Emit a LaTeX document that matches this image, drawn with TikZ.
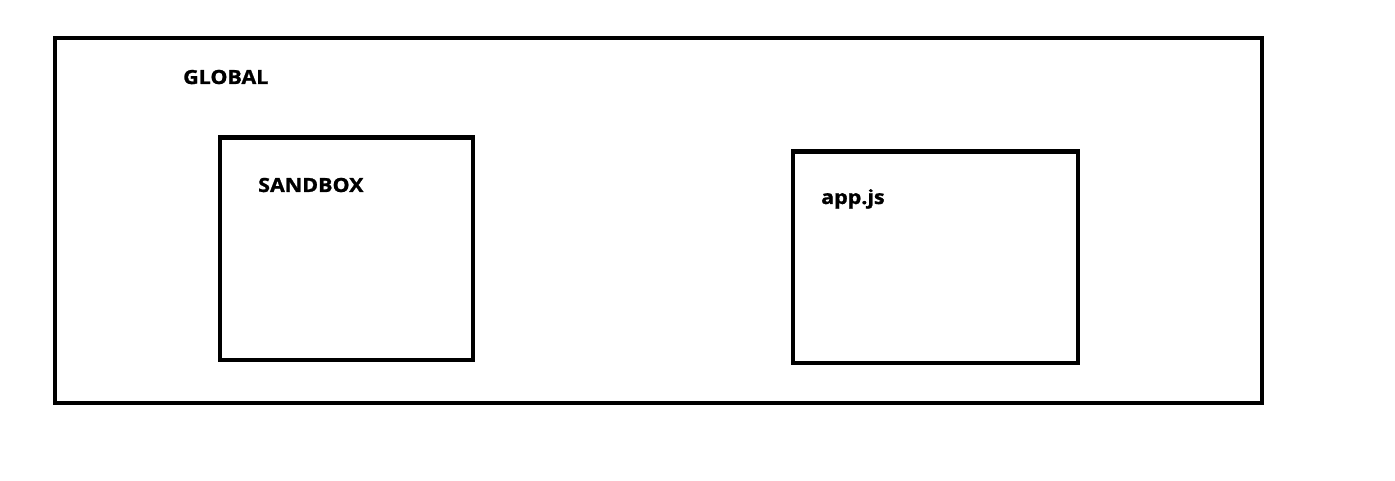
\documentclass[tikz,border=0pt]{standalone}
\usepackage{fontspec}
\setmainfont{Open Sans}[BoldFeatures={FakeStretch=1.1,FakeBold=1.2}]
\begin{document}
\begin{tikzpicture}[x=1pt,y=-1pt,
  box/.style={draw=black,line width=4.5pt,fill=none},
  lbl/.style={anchor=base west,inner sep=0pt,font=\fontsize{19.5}{22}\selectfont\bfseries}]
\useasboundingbox (0,0) rectangle (1395,481);
\fill[white] (0,0) rectangle (1395,481);
\draw[box] (55,38) rectangle (1262,403);
\draw[box] (220,137.5) rectangle (473,360);
\draw[box] (793,151.5) rectangle (1078,363);
\node[lbl] (global) at (183,84) {GLOBAL};
\node[lbl] (sandbox) at (258,192) {SANDBOX};
\node[lbl] (app) at (821,204) {app.js};
\end{tikzpicture}
\end{document}
